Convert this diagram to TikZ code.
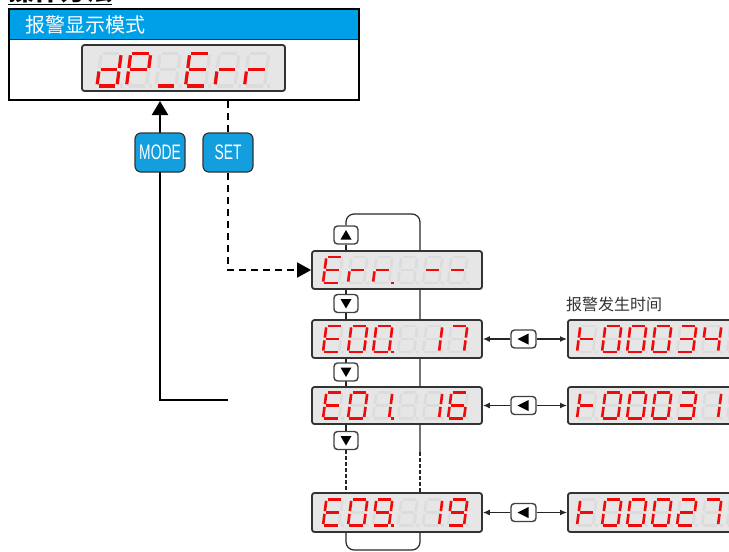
\documentclass[tikz,border=0pt]{standalone}
\usepackage{fontspec}
\usepackage{graphicx}
\setmainfont{Liberation Sans}
\newfontfamily\cjk{Noto Sans CJK SC}
\usetikzlibrary{arrows.meta,backgrounds}
\definecolor{hdrblue}{HTML}{00A0E9}
\definecolor{btnblue}{HTML}{139FDD}
\definecolor{lcdbg}{HTML}{E6E6E6}
\definecolor{ghostc}{HTML}{DCDCDC}
\definecolor{litc}{HTML}{F00A0A}
\definecolor{framec}{HTML}{333333}
\tikzset{
 ghostseg/.style={draw=ghostc},
 litseg/.style={draw=litc},
 lcd/.style={draw=framec, fill=lcdbg, line width=1.8pt, rounded corners=2.5pt, inner sep=0pt},
 keybtn/.style={draw=black!75, fill=white, line width=1.4pt, rounded corners=3.5pt, minimum width=24pt, minimum height=18pt, inner sep=0pt},
 bluebtn/.style={draw=black!80, fill=btnblue, line width=1.2pt, rounded corners=6pt, minimum width=50pt, minimum height=39pt, inner sep=0pt, text=white, font=\fontsize{21}{21}\selectfont},
 link/.style={line width=1.2pt, draw=black!85},
 smalldash/.style={dash pattern=on 3.5pt off 2.5pt},
}
% seven segment parts (local coordinates, y up)
\newcommand\SGa[1]{\path[#1] (1.4,26)--(14.6,26);}
\newcommand\SGb[1]{\path[#1] (16,24.6)--(16,14.4);}
\newcommand\SGc[1]{\path[#1] (16,11.6)--(16,1.4);}
\newcommand\SGd[1]{\path[#1] (1.4,0)--(14.6,0);}
\newcommand\SGe[1]{\path[#1] (0,11.6)--(0,1.4);}
\newcommand\SGf[1]{\path[#1] (0,24.6)--(0,14.4);}
\newcommand\SGg[1]{\path[#1] (1.4,13)--(14.6,13);}
\newcommand\SGz[1]{}
\newcommand\SGall[1]{\SGa{#1}\SGb{#1}\SGc{#1}\SGd{#1}\SGe{#1}\SGf{#1}\SGg{#1}}
\newcommand\DP[1]{\fill[#1] (18.3,-1.3) rectangle (20.6,1.3);}
\newcommand\defch[2]{\expandafter\def\csname ch#1\endcsname{#2}}
\defch{E}{a,d,e,f,g}
\defch{d}{b,c,d,e,g}
\defch{P}{a,b,e,f,g}
\defch{U}{d}
\defch{r}{e,g}
\defch{M}{g}
\defch{X}{z}
\defch{T}{e,f,g}
\defch{0}{a,b,c,d,e,f}
\defch{1}{b,c}
\defch{2}{a,b,g,e,d}
\defch{3}{a,b,g,c,d}
\defch{4}{f,g,b,c}
\defch{6}{a,f,g,e,c,d}
\defch{7}{a,b,c}
\defch{9}{a,b,c,d,f,g}
\newcommand\digitat[6]{%
 \begin{scope}[shift={(#1,#2)}, x={(#5pt,0pt)}, y={(0.13*#5pt,#5pt)}, line width=#6, line cap=butt]
 \SGall{ghostseg}\DP{ghostc}
 \edef\seglist{\csname ch#3\endcsname}%
 \foreach \sg in \seglist {\csname SG\sg\endcsname{litseg}}
 \ifnum#4=1\relax \DP{litc}\fi
 \end{scope}}
\newcommand\lcdrow[6]{\foreach \sym/\dpt [count=\k from 0] in {#6} {\digitat{#1+#3*\k}{#2}{\sym}{\dpt}{#4}{#5}}}
\newcommand\triup[1]{\fill ([shift={(-5.5,4.5)}]#1.center) -- ([shift={(5.5,4.5)}]#1.center) -- ([shift={(0,-5)}]#1.center) -- cycle;}
\newcommand\tridown[1]{\fill ([shift={(-5.5,-4.5)}]#1.center) -- ([shift={(5.5,-4.5)}]#1.center) -- ([shift={(0,5)}]#1.center) -- cycle;}
\newcommand\trileft[1]{\fill ([shift={(5,-5.5)}]#1.center) -- ([shift={(5,5.5)}]#1.center) -- ([shift={(-6,0)}]#1.center) -- cycle;}
\begin{document}
\begin{tikzpicture}[x=1pt,y=-1pt]
\useasboundingbox (0,0) rectangle (729,552);
% cut-off heading
\node[anchor=base west, inner sep=0pt, font=\cjk\bfseries\fontsize{26}{26}\selectfont] (heading) at (8,0.5) {\underline{操作方法}};
% header panel
\fill[hdrblue] (9,9) rectangle (359,39.5);
\draw[line width=1pt, black!80] (9,39.5) -- (359,39.5);
\node[draw=black, line width=2pt, minimum width=350pt, minimum height=91pt, inner sep=0pt] (hdr) at (184,54.5) {};
\node[anchor=west, text=white, font=\cjk\fontsize{20}{20}\selectfont, inner sep=0pt] (title) at (25,25) {报警显示模式};
\node[lcd, minimum width=203pt, minimum height=46pt] (topdisp) at (183.5,68) {};
\lcdrow{97}{86}{29.5}{1.25}{3.2pt}{d/0,P/0,U/0,E/0,r/0,r/0}
% buttons
\node[bluebtn] (mode) at (160,152.5) {\scalebox{0.66}[1]{MODE}};
\node[bluebtn] (set) at (228,152.5) {\scalebox{0.66}[1]{SET}};
% left displays
\node[lcd, minimum width=170pt, minimum height=38pt] (err) at (397,270) {};
\lcdrow{323}{283}{25}{1}{2.6pt}{E/0,r/0,r/1,X/0,M/0,M/0}
\node[lcd, minimum width=170pt, minimum height=38pt] (e00) at (397,339) {};
\lcdrow{323}{352}{25}{1}{2.6pt}{E/0,0/0,0/1,X/0,1/0,7/0}
\node[lcd, minimum width=170pt, minimum height=37pt] (e01) at (397,405.5) {};
\lcdrow{323}{418.5}{25}{1}{2.6pt}{E/0,0/0,1/1,X/0,1/0,6/0}
\node[lcd, minimum width=170pt, minimum height=39pt] (e09) at (397,512.5) {};
\lcdrow{323}{525.5}{25}{1}{2.6pt}{E/0,0/0,9/1,X/0,1/0,9/0}
% right displays
\node[anchor=west, font=\cjk\fontsize{16}{16}\selectfont, text=black!80, inner sep=0pt] (tlabel) at (566,304) {报警发生时间};
\node[lcd, anchor=west, minimum width=200pt, minimum height=38pt] (t1) at (567,339) {};
\lcdrow{577}{352}{25}{1}{2.6pt}{T/0,0/0,0/0,0/0,3/0,4/0,X/0}
\node[lcd, anchor=west, minimum width=200pt, minimum height=37pt] (t2) at (567,405.5) {};
\lcdrow{577}{418.5}{25}{1}{2.6pt}{T/0,0/0,0/0,0/0,3/0,1/0,X/0}
\node[lcd, anchor=west, minimum width=200pt, minimum height=39pt] (t3) at (567,512.5) {};
\lcdrow{577}{525.5}{25}{1}{2.6pt}{T/0,0/0,0/0,0/0,2/0,7/0,X/0}
% key buttons
\node[keybtn] (up) at (346,235) {};
\node[keybtn] (dn1) at (346,303.5) {};
\node[keybtn] (dn2) at (346,372) {};
\node[keybtn] (dn3) at (346,440.5) {};
\triup{up}\tridown{dn1}\tridown{dn2}\tridown{dn3}
\node[keybtn, minimum width=25pt] (lb1) at (523.5,339) {};
\node[keybtn, minimum width=25pt] (lb2) at (523.5,405.5) {};
\node[keybtn, minimum width=25pt] (lb3) at (523.5,512.5) {};
\trileft{lb1}\trileft{lb2}\trileft{lb3}
% coordinates
\coordinate (mfree) at (228,400);
\coordinate (loopTR) at (420,214);
\coordinate (rdash1) at (420,452);
\coordinate (rdash2) at (420,493);
\coordinate (loopBR) at (420,550);
\begin{scope}[on background layer]
 \draw[line width=2.2pt, -{Triangle[length=14pt,width=16pt]}] (mfree) -| (mode.center |- hdr.south);
 \draw[line width=1.8pt, dash pattern=on 7pt off 5pt, -{Triangle[length=14pt,width=15pt]}] (set.center |- hdr.south) |- (err.west);
 \draw[link, rounded corners=8pt] (up.north) |- (loopTR) -- (rdash1);
 \draw[link, smalldash] (rdash1) -- (rdash2);
 \draw[link, rounded corners=8pt] (rdash2) -- (loopBR) -| (e09.south -| up.center);
 \draw[link] (up.south) -- (dn3.north);
 \draw[link, smalldash] (dn3.south) -- (e09.north -| dn3.center);
\end{scope}
\foreach \b/\l/\r in {lb1/e00/t1, lb2/e01/t2, lb3/e09/t3} {
 \draw[link, -{Latex[length=7pt,width=6pt]}] (\b) -- (\l);
 \draw[link, -{Latex[length=7pt,width=6pt]}] (\b) -- (\r);
}
\end{tikzpicture}
\end{document}
